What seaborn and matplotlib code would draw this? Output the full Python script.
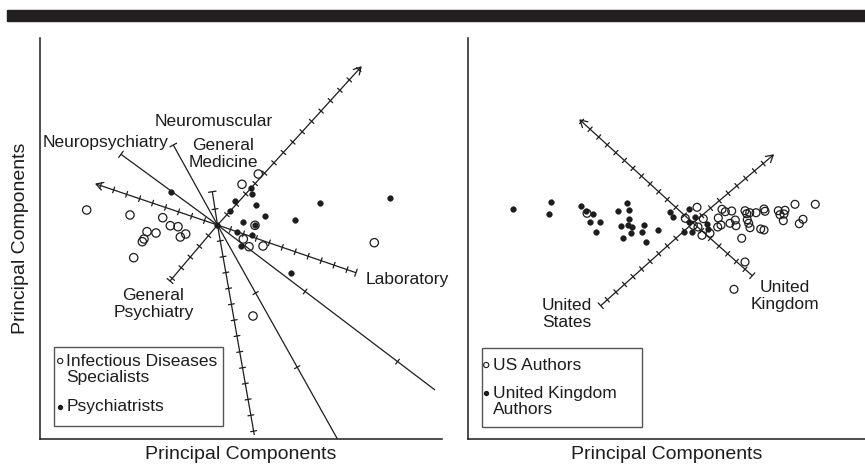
import numpy as np
import pandas as pd
import matplotlib
matplotlib.use("Agg")
import matplotlib.pyplot as plt
from matplotlib.patches import Rectangle
import seaborn as sns

# ---------------- data (biplot scores, origin at the axis crossing) ----------------
# Left panel
id_x = [-130.8, -87.5, -54.8, -47.2, -39.5, -70.5, -61.5, -31.8, -37.2, -73.5,
        -75.2, -83.8, 40.8, 24.5, 37.5, 25.8, 31.5, 45.5, 156.8, 35.5]
id_y = [15, 10, 7.3, -0.7, -1.7, -6.7, -8, -9, -12, -14,
        -16.7, -32.7, 51, 40.7, -0.3, -14, -21.7, -21, -17.7, -91]
psy_x = [-46.5, 33.5, 35, 17.8, 38.8, 13, 47.5, 25.2, 37.3, 77.3, 102.5, 20,
         34.8, 23.5, 73.3, 172.5, 0]
psy_y = [33.3, 37.5, 31, 24.3, 20, 14, 9, 3.2, 0.3, 5, 22.5, -7.3,
         -10, -21, -47.8, 26.7, 0]

# Right panel
uk_x = [-180.3, -142.3, -143.7, -112.3, -107, -100, -102.7, -93, -97.5, -66.3,
        -74.7, -64.3, -64.3, -65.3, -72.5, -60.7, -48.7, -62.3, -51.3, -69.8,
        -47.3, -34.7, -22.7, -20, -4.3, -3.7, -9, -0.7, 2, 14.3, 15]
uk_y = [14, 20.7, 8.7, 17, 12, 9.2, 0.7, 1.3, -8.5, 20.3,
        11.8, 12.7, 3.7, -1.7, -3.3, -3.7, -2, -10.3, -9.3, -14.5,
        -19.3, -7.3, 10.7, 6.3, 13.7, 1, -8.7, -9, 5.7, -1.3, -6]
us_x = [4, -7.7, 10.3, 0.3, 5, 9, 17, 25.3, 29, 32.3, 38.7, 52, 53.7, 56.7, 63,
        71, 72, 85.3, 92, 87, 91, 102, 122.3, 110, 106.3, 90.3, 42.3, 37, 28,
        24.7, 43, 54.3, 55.7, 57, 67.7, 71, 48.7, 52, 41, -106]
us_y = [15.7, 4.7, 4.3, -2.3, -4, -12.3, -10.3, 5, 13.7, 11.3, 12, 12.3, 9.3,
        10.3, 10.3, 14, 11.7, 12.3, 12.7, 8.3, 9, 18.7, 18.7, 3.7, -0.7, 2.3, 3,
        -0.3, -2, -4, -2.7, 3.3, -0.3, -4.7, -6, -7, -15.3, -39, -66.3, 9.7]

# Biplot variable axes: each half-line from the origin (end point, tick step / tick list, end style)
left_var_names = ["General Psychiatry", "Laboratory", "Neuropsychiatry",
                  "Neuromuscular", "General Medicine"]
left_pos_end = [(143.5, 158), (-121.5, 41), (217.5, -165), (120.5, -215), (36.8, -210)]
left_neg_end = [(-47.5, -56), (138.5, -47.7), (-96.5, 70.7), (-44.2, 80), (-5.2, 33.3)]
left_pos_ticks = [14.0, 13.7, [110, 226], [78, 163], 16.1]
left_neg_ticks = [14.0, 13.7, [], [], 16.1]
left_pos_style = ["arrow", "arrow", None, None, None]
left_neg_style = ["cap", "cap", "cap", "cap", "cap"]

right_var_names = ["United Kingdom", "United States"]
right_pos_end = [(-113, 103), (80.3, 68)]
right_neg_end = [(59.3, -52.7), (-92.3, -82.7)]
right_ticks = [11.6, 11.5]
right_pos_style = ["arrow", "arrow"]
right_neg_style = ["cap", "cap"]

legend_left = ["Infectious Diseases\nSpecialists", "Psychiatrists"]
legend_right = ["US Authors", "United Kingdom\nAuthors"]

INK = "#1e1c1d"

sns.set_theme(style="white")
plt.rcParams["font.family"] = ["Liberation Sans", "DejaVu Sans"]

W, H = 865, 468
fig = plt.figure(figsize=(W / 100, H / 100), dpi=100)
fig.patch.set_facecolor("white")

# top dark band
fig.patches.append(Rectangle((7 / W, 1 - 21 / H), 858 / W, 11 / H,
                             transform=fig.transFigure, color="#231f20", zorder=0))

ax1 = fig.add_axes([40 / W, (H - 439) / H, 402 / W, 401 / H])
ax2 = fig.add_axes([468 / W, (H - 439) / H, 397 / W, 401 / H])


def half_line(ax, end, ticks, style):
    ex, ey = end
    L = np.hypot(ex, ey)
    ux, uy = ex / L, ey / L
    px, py = -uy, ux
    ax.plot([0, ex], [0, ey], color=INK, lw=0.9, solid_capstyle="butt", zorder=2)
    if np.isscalar(ticks):
        dists = np.arange(ticks, L - 2, ticks)
    else:
        dists = ticks
    t = 3.0
    for d in dists:
        cx, cy = ux * d, uy * d
        ax.plot([cx - px * t, cx + px * t], [cy - py * t, cy + py * t],
                color=INK, lw=0.9, zorder=2)
    if style == "cap":
        c = 3.8
        ax.plot([ex - px * c, ex + px * c], [ey - py * c, ey + py * c],
                color=INK, lw=0.9, zorder=2)
    elif style == "arrow":
        back, wid = 7.0, 4.0
        ax.plot([ex - ux * back + px * wid, ex, ex - ux * back - px * wid],
                [ey - uy * back + py * wid, ey, ey - uy * back - py * wid],
                color=INK, lw=0.9, zorder=2)


for i in range(len(left_var_names)):
    half_line(ax1, left_pos_end[i], left_pos_ticks[i], left_pos_style[i])
    half_line(ax1, left_neg_end[i], left_neg_ticks[i], left_neg_style[i])
for i in range(len(right_var_names)):
    half_line(ax2, right_pos_end[i], right_ticks[i], right_pos_style[i])
    half_line(ax2, right_neg_end[i], right_ticks[i], right_neg_style[i])

open_kw = dict(marker="o", facecolors="none", edgecolor=INK, linewidth=0.9,
               legend=False, zorder=3)
fill_kw = dict(marker="o", s=17, color=INK, edgecolor=INK, linewidth=0.3,
               legend=False, zorder=4)

sns.scatterplot(x=id_x, y=id_y, ax=ax1, s=36, **open_kw)
sns.scatterplot(x=psy_x, y=psy_y, ax=ax1, **fill_kw)
sns.scatterplot(x=us_x, y=us_y, ax=ax2, s=32, **open_kw)
sns.scatterplot(x=uk_x, y=uk_y, ax=ax2, **fill_kw)

ax1.set_xlim(-177.5, 224.5)
ax1.set_ylim(-214, 187)
ax2.set_xlim(-225, 172)
ax2.set_ylim(-216, 185)

fs = 12.5
# variable labels (left)
ax1.text(-3.5, 104, left_var_names[3], ha="center", va="center", fontsize=fs, color=INK)
ax1.text(-49, 83, left_var_names[2], ha="right", va="center", fontsize=fs, color=INK)
ax1.text(6, 71, "General\nMedicine", ha="center", va="center", fontsize=fs,
         color=INK, linespacing=1.12)
ax1.text(-64, -79, "General\nPsychiatry", ha="center", va="center", fontsize=fs,
         color=INK, linespacing=1.12)
ax1.text(148.5, -54.3, left_var_names[1], ha="left", va="center", fontsize=fs, color=INK)
# variable labels (right)
ax2.text(-126.5, -91, "United\nStates", ha="center", va="center", fontsize=fs,
         color=INK, linespacing=1.12)
ax2.text(92, -73, "United\nKingdom", ha="center", va="center", fontsize=fs,
         color=INK, linespacing=1.12)

for ax in (ax1, ax2):
    ax.set_xticks([])
    ax.set_yticks([])
    for side in ("top", "right"):
        ax.spines[side].set_visible(False)
    for side in ("left", "bottom"):
        ax.spines[side].set_color(INK)
        ax.spines[side].set_linewidth(1.1)
    ax.set_facecolor("none")
    ax.set_xlabel("Principal Components", fontsize=14, color=INK, labelpad=5)
ax1.set_ylabel("Principal Components", fontsize=14, color=INK, labelpad=8)


def legend_box(ax, box, items, axw, axh):
    # box in pixel offsets from axes lower-left: (x0, y0, w, h)
    x0, y0, w, h = box
    ax.add_patch(Rectangle((x0 / axw, y0 / axh), w / axw, h / axh,
                           transform=ax.transAxes, fill=False, edgecolor="#555555",
                           lw=1.0, zorder=5))
    for (mx, my, filled, tx, ty, label) in items:
        if filled:
            ax.scatter([mx / axw], [my / axh], s=8, color=INK, transform=ax.transAxes,
                       zorder=6, clip_on=False)
        else:
            ax.scatter([mx / axw], [my / axh], s=14, facecolors="none", edgecolors=INK,
                       linewidths=0.8, transform=ax.transAxes, zorder=6, clip_on=False)
        ax.text(tx / axw, ty / axh, label, transform=ax.transAxes, ha="left",
                va="center", fontsize=12.5, color=INK, linespacing=1.05, zorder=6)


# left legend: axes left=40, bottom=439 in image pixels
legend_box(ax1, (14, 439 - 426, 168.7, 79),
           [(20.2, 439 - 361, False, 26.5, 439 - 369.5, legend_left[0]),
            (20.2, 439 - 407, True, 26.5, 439 - 407, legend_left[1])], 402, 401)
legend_box(ax2, (13.7, 439 - 426.7, 160, 78.4),
           [(18.2, 439 - 365, False, 25, 439 - 365, legend_right[0]),
            (18.2, 439 - 392.7, True, 25, 439 - 401.5, legend_right[1])], 397, 401)

fig.savefig("out.png", dpi=100, facecolor="white")
